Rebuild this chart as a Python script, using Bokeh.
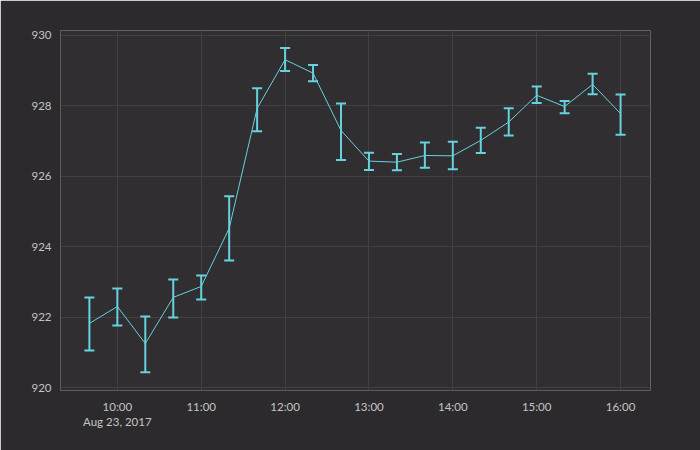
from datetime import datetime
from bokeh.plotting import figure
from bokeh.models import (ColumnDataSource, Whisker, TeeHead, DatetimeTickFormatter,
                          Range1d, FixedTicker, DatetimeTicker)
from bokeh.embed import file_html
from bokeh.resources import INLINE

day = "2017-08-23"
times = ["09:40", "10:00", "10:20", "10:40", "11:00", "11:20", "11:40", "12:00",
         "12:20", "12:40", "13:00", "13:20", "13:40", "14:00", "14:20", "14:40",
         "15:00", "15:20", "15:40", "16:00"]
values = [921.82, 922.30, 921.25, 922.56, 922.87, 924.52, 927.93, 929.31,
          928.93, 927.30, 926.43, 926.40, 926.59, 926.58, 927.02, 927.54,
          928.30, 927.98, 928.61, 927.78]
upper = [922.56, 922.81, 922.02, 923.07, 923.18, 925.43, 928.50, 929.64,
         929.16, 928.07, 926.67, 926.63, 926.96, 926.98, 927.38, 927.93,
         928.55, 928.14, 928.91, 928.32]
lower = [921.05, 921.76, 920.43, 921.99, 922.50, 923.61, 927.28, 928.99,
         928.70, 926.46, 926.18, 926.17, 926.24, 926.20, 926.66, 927.16,
         928.08, 927.79, 928.33, 927.18]
y_ticks = [920, 922, 924, 926, 928, 930]

xs = [datetime.strptime(day + " " + t, "%Y-%m-%d %H:%M") for t in times]
src = ColumnDataSource(dict(x=xs, y=values, upper=upper, lower=lower))

CYAN = "#66d2dd"
FONT = "Lato"

p = figure(width=700, height=450, x_axis_type="datetime",
           output_backend="svg", toolbar_location=None,
           x_range=Range1d(datetime(2017, 8, 23, 9, 19, 20), datetime(2017, 8, 23, 16, 21, 25)),
           y_range=Range1d(919.915, 930.14),
           min_border_left=60, min_border_right=50, min_border_top=30, min_border_bottom=60)

p.background_fill_color = "#302e31"
p.border_fill_color = "#2c2a2d"
p.outline_line_color = None

p.line("x", "y", source=src, line_color=CYAN, line_width=1)
w = Whisker(base="x", upper="upper", lower="lower", source=src,
            line_color=CYAN, line_width=2,
            upper_head=TeeHead(size=10, line_color=CYAN, line_width=2),
            lower_head=TeeHead(size=10, line_color=CYAN, line_width=2))
p.add_layout(w)

p.xaxis.ticker = DatetimeTicker(desired_num_ticks=8)
p.xaxis.formatter = DatetimeTickFormatter(
    hours="%H:%M", hourmin="%H:%M", minutes="%H:%M",
    context=DatetimeTickFormatter(hours="%b %d, %Y", hourmin="%b %d, %Y", minutes="%b %d, %Y"),
    context_which="start")
p.yaxis.ticker = FixedTicker(ticks=y_ticks)

for ax in (p.xaxis, p.yaxis):
    ax.axis_line_color = "#5c5b5e"
    ax.axis_line_width = 1
    ax.major_tick_line_color = None
    ax.minor_tick_line_color = None
    ax.major_tick_out = 0
    ax.minor_tick_out = 0
    ax.major_label_text_color = "#c4c3c6"
    ax.major_label_text_font = FONT
    ax.major_label_text_font_size = "11.5px"

p.xaxis.major_label_standoff = 9
p.yaxis.major_label_standoff = 9

p.grid.grid_line_color = "#424044"
p.grid.grid_line_width = 1

open("out.html", "w").write(file_html(p, INLINE))
